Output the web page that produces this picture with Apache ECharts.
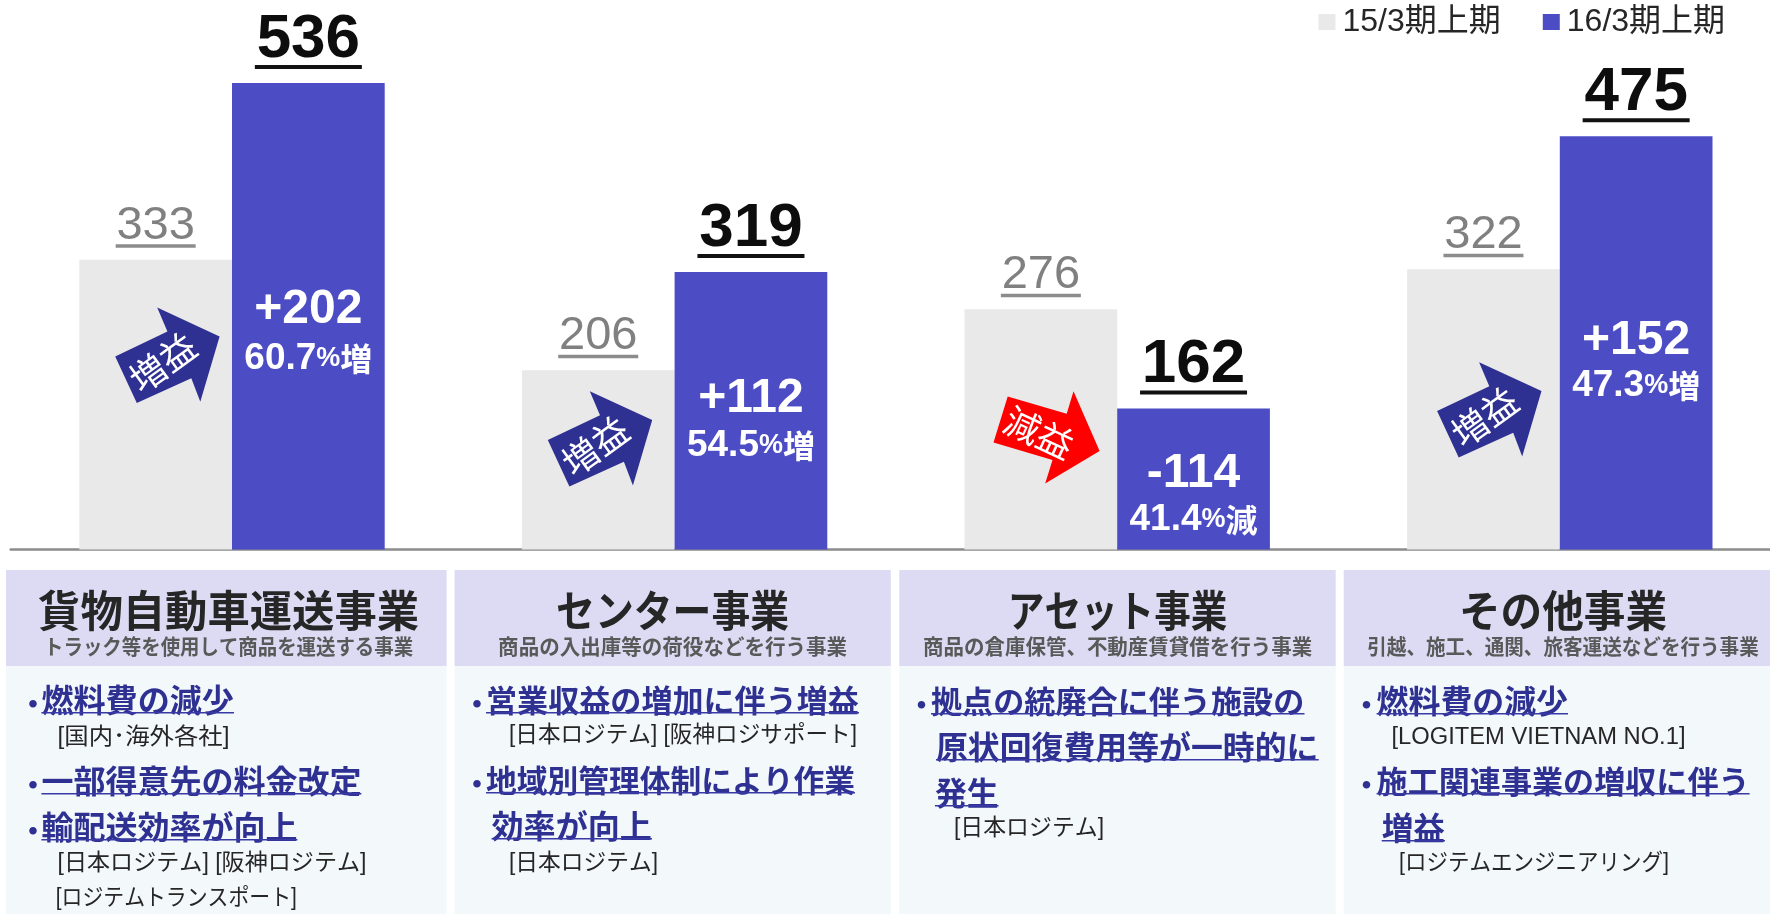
<!DOCTYPE html>
<html><head><meta charset="utf-8">
<style>html,body{margin:0;padding:0;background:#fff}#c{width:1770px;height:914px}</style>
<script src="https://cdn.jsdelivr.net/npm/echarts@6/dist/echarts.min.js"></script>
</head><body><div id="c"></div>
<script>
const categories = ['貨物自動車運送事業','センター事業','アセット事業','その他事業'];
const seriesNames = ['15/3期上期','16/3期上期'];
const prevValues = [333,206,276,322];
const currValues = [536,319,162,475];
const deltaLabels = ['+202','+112','-114','+152'];
const pctLabels = ['60.7','54.5','41.4','47.3'];
const pctWords = ['増','増','減','増'];
const arrowWords = ['増益','増益','減益','増益'];
const subtitles = ['トラック等を使用して商品を運送する事業','商品の入出庫等の荷役などを行う事業','商品の倉庫保管、不動産賃貸借を行う事業','引越、施工、通関、旅客運送などを行う事業'];

const FONT = '"Liberation Sans","Noto Sans CJK JP",sans-serif';
const CJK = '"Noto Sans CJK JP","Liberation Sans",sans-serif';
const NAVY = '#2E3192', BLUE = '#4C4CC4', GRAY = '#E9E9E9';

const deltaY = [309.5,399,473.5,340.5], pctY = [359,446,520,386];
const arrowTip = [[-12.4,336.4],[-22.4,420],[-17.6,451],[-18.3,391]];
const upArrow = [[0,0],[-62.4,-28.8],[-52.2,-4.8],[-104.4,20],[-82.8,66.5],[-28.3,41.8],[-19.3,65.4]];
const downArrow = [[0,0],[-26.1,-59.7],[-32.9,-37.2],[-91.9,-54.6],[-106.1,-8.5],[-47.1,9],[-54.4,32.6]];
const outline = [1,0,6,5,4,3,2];
const HALF_BAR = 76.35;

function renderNote(params, api){
  const i = api.value(0);
  const cx = api.coord([i,0])[0];
  const bx = cx + HALF_BAR;
  const isDown = pctWords[i] === '減';
  const tx = cx + arrowTip[i][0], ty = arrowTip[i][1];
  const src = isDown ? downArrow : upArrow;
  const pts = outline.map(k => [tx + src[k][0], ty + src[k][1]]);
  return {type:'group', children:[
    {type:'polygon', shape:{points:pts}, style:{fill:isDown ? '#FF0000' : NAVY}},
    {type:'text', x:tx + (isDown ? -60.6 : -57), y:ty + (isDown ? -18.3 : 26),
      rotation:isDown ? -25*Math.PI/180 : 36*Math.PI/180,
      style:{text:arrowWords[i], fill:'#fff', font:'400 36px '+CJK, align:'center', verticalAlign:'middle'}},
    {type:'text', x:bx, y:deltaY[i],
      style:{text:deltaLabels[i], fill:'#fff', font:'700 48px '+FONT, align:'center', verticalAlign:'middle'}},
    {type:'text', x:bx, y:pctY[i],
      style:{text:'{a|'+pctLabels[i]+'}{b|%}{c|'+pctWords[i]+'}', align:'center', verticalAlign:'middle',
        rich:{a:{fill:'#fff',font:'700 37px '+FONT},
              b:{fill:'#fff',font:'700 27px '+FONT},
              c:{fill:'#fff',font:'700 32px '+CJK}}}}
  ]};
}

const panels = [[6,446.6],[454.6,890.8],[899.3,1335.7],[1343.7,1770]];
const titleX = [228.6,672.6,1117.6,1563];
const titleW = [381,233,219.5,208];
const subW = [369,349,389,391.5];
const bullets = [[30,697],[30,778],[30,824],[474,697],[474,777],[918.6,698],[1363.5,698],[1363.5,778]];
const heads = [
  [41.4,697,192.6,'燃料費の減少'],[41.4,778,320,'一部得意先の料金改定'],[41.4,824,256,'輸配送効率が向上'],
  [486,697,373,'営業収益の増加に伴う増益'],[486,777,369,'地域別管理体制により作業'],[491.5,823,160.5,'効率が向上'],
  [931,698,373.5,'拠点の統廃合に伴う施設の'],[936,744,382.7,'原状回復費用等が一時的に'],[935,790,63.6,'発生'],
  [1376.6,698,191.4,'燃料費の減少'],[1376.6,778,373,'施工関連事業の増収に伴う'],[1381.7,825,63.3,'増益']
];
const notes = [
  [58.5,738,172,'[国内･海外各社]'],[58.5,864,309,'[日本ロジテム] [阪神ロジテム]'],[56.8,899,241,'[ロジテムトランスポート]'],
  [510,736,348,'[日本ロジテム] [阪神ロジサポート]'],[510,864,149,'[日本ロジテム]'],
  [955,829,150,'[日本ロジテム]'],
  [1392.5,738,294,'[LOGITEM VIETNAM NO.1]'],[1400,864,270,'[ロジテムエンジニアリング]']
];

const ctx = document.createElement('canvas').getContext('2d');
function fitScale(text,font,w){ ctx.font = font; return w/ctx.measureText(text).width; }

const graphics = [];
panels.forEach((p,i)=>{
  graphics.push({type:'rect',shape:{x:p[0],y:666,width:p[1]-p[0],height:248},style:{fill:'#F3F8FB'},silent:true});
  graphics.push({type:'rect',shape:{x:p[0],y:570,width:p[1]-p[0],height:96},style:{fill:'#DCDBF3'},silent:true});
  const tf='700 43px '+CJK, sf='700 21px '+CJK;
  graphics.push({type:'text',x:titleX[i],y:611,scaleX:fitScale(categories[i],tf,titleW[i]),style:{text:categories[i],fill:'#262626',font:tf,align:'center',verticalAlign:'middle'}});
  graphics.push({type:'text',x:titleX[i],y:646,scaleX:fitScale(subtitles[i],sf,subW[i]),style:{text:subtitles[i],fill:'#595959',font:sf,align:'center',verticalAlign:'middle'}});
});
bullets.forEach(b=>graphics.push({type:'text',x:b[0]+3,y:b[1]+7,style:{text:'･',fill:NAVY,font:'900 36px '+CJK,align:'center',verticalAlign:'middle'}}));
heads.forEach(h=>{
  const size = h[2]/h[3].length;
  graphics.push({type:'text',x:h[0],y:h[1]+3,style:{text:h[3],fill:NAVY,font:'700 '+size+'px '+CJK,align:'left',verticalAlign:'middle'}});
  graphics.push({type:'rect',shape:{x:h[0],y:h[1]+15,width:h[2],height:1.6},style:{fill:'#3A3AA6'},silent:true});
});
notes.forEach(n=>{
  const f='400 23px '+FONT;
  graphics.push({type:'text',x:n[0]-1,y:n[1],scaleX:fitScale(n[3],f,n[2]),style:{text:n[3],fill:'#262626',font:f,align:'left',verticalAlign:'middle'}});
});

const chart = echarts.init(document.getElementById('c'),null,{renderer:'canvas'});
chart.setOption({
  animation:false,
  backgroundColor:'#fff',
  legend:{left:1313.5,top:1,itemWidth:17,itemHeight:16,itemGap:42,icon:'rect',
    textStyle:{fontFamily:FONT,fontSize:32,color:'#262626',padding:[0,0,0,2]},
    data:seriesNames},
  grid:{left:10.7,top:27.4,width:1770.4,height:522.1,containLabel:false,outerBoundsMode:'none'},
  xAxis:{type:'category',data:categories,axisTick:{show:false},axisLabel:{show:false},
    axisLine:{lineStyle:{color:'#8C8C8C',width:2.5}}},
  yAxis:{type:'value',min:0,max:600,show:false,splitLine:{show:false}},
  graphic:{elements:graphics},
  series:[
    {name:seriesNames[0],type:'bar',data:prevValues,barWidth:152.7,barGap:0,itemStyle:{color:GRAY},
      label:{show:true,position:'top',distance:12,align:'center',formatter:p=>'{v|'+p.value+'}\n{u|}',
        rich:{v:{fontFamily:FONT,fontSize:47,color:'#808080',lineHeight:37,align:'center'},
              u:{backgroundColor:'#8C8C8C',width:80,height:3.5,lineHeight:3.5,align:'center'}}}},
    {name:seriesNames[1],type:'bar',data:currValues,barWidth:152.7,barGap:0,itemStyle:{color:BLUE},
      label:{show:true,position:'top',distance:14,align:'center',formatter:p=>'{v|'+p.value+'}\n{u|}',
        rich:{v:{fontFamily:FONT,fontSize:62,fontWeight:700,color:'#0D0D0D',lineHeight:51,align:'center'},
              u:{backgroundColor:'#111111',width:107,height:4,lineHeight:4,align:'center'}}}},
    {type:'custom',name:'notes',coordinateSystem:'cartesian2d',clip:false,z:5,silent:true,
      data:categories.map((c,i)=>[i,currValues[i]]),encode:{x:0,y:1},renderItem:renderNote}
  ]
});
</script></body></html>
